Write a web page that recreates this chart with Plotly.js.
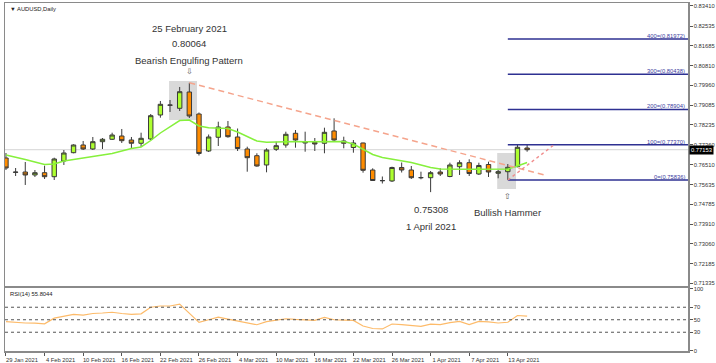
<!DOCTYPE html>
<html>
<head>
<meta charset="utf-8">
<script src="https://cdn.plot.ly/plotly-3.0.1.min.js"></script>
<style>html,body{margin:0;padding:0;background:#fff}#chart{width:716px;height:363px}</style>
</head>
<body>
<div id="chart"></div>
<script>
// ---- data ----
const dates = ['2021-01-29','2021-02-01','2021-02-02','2021-02-03','2021-02-04','2021-02-05','2021-02-08','2021-02-09','2021-02-10','2021-02-11',
'2021-02-12','2021-02-15','2021-02-16','2021-02-17','2021-02-18','2021-02-19','2021-02-22','2021-02-23','2021-02-24','2021-02-25',
'2021-02-26','2021-03-01','2021-03-02','2021-03-03','2021-03-04','2021-03-05','2021-03-08','2021-03-09','2021-03-10','2021-03-11',
'2021-03-12','2021-03-15','2021-03-16','2021-03-17','2021-03-18','2021-03-19','2021-03-22','2021-03-23','2021-03-24','2021-03-25',
'2021-03-26','2021-03-29','2021-03-30','2021-03-31','2021-04-01','2021-04-02','2021-04-05','2021-04-06','2021-04-07','2021-04-08',
'2021-04-09','2021-04-12','2021-04-13','2021-04-14','2021-04-15'];

const openP = [0.76793,0.76184,0.76184,0.76054,0.76154,0.75980,0.76663,0.77024,0.77359,0.77185,
0.77502,0.77607,0.77750,0.77576,0.77433,0.77620,0.78664,0.79099,0.78955,0.79664,
0.78707,0.77098,0.77694,0.78142,0.77707,0.77185,0.76893,0.76489,0.77172,0.77359,
0.77868,0.77446,0.77476,0.77433,0.77968,0.77533,0.77250,0.77446,0.76271,0.75806,
0.75793,0.76380,0.76271,0.75936,0.75936,0.76184,0.75988,0.76415,0.76589,0.76097,
0.76510,0.76128,0.76197,0.76415,0.77228];
const highP = [0.77011,0.76358,0.76619,0.76271,0.76458,0.76806,0.77141,0.77389,0.77533,0.77707,
0.77663,0.77894,0.78055,0.77707,0.77894,0.78707,0.79273,0.79316,0.79882,0.80064,
0.78772,0.77815,0.78372,0.78403,0.78076,0.77285,0.76998,0.77215,0.77502,0.77937,
0.78011,0.77937,0.77663,0.78111,0.78520,0.77720,0.77576,0.77459,0.76345,0.75988,
0.76415,0.76597,0.76445,0.76197,0.76228,0.76345,0.76589,0.76693,0.76736,0.76589,
0.76632,0.76271,0.76532,0.77370,0.77360];
const lowP = [0.76271,0.76010,0.75619,0.75967,0.75880,0.75836,0.76489,0.76998,0.77141,0.77141,
0.77185,0.77576,0.77446,0.77228,0.77272,0.77576,0.78546,0.78794,0.78838,0.78533,
0.76902,0.77054,0.77315,0.77676,0.77098,0.76197,0.76415,0.76171,0.77098,0.77241,
0.77241,0.77067,0.77098,0.76998,0.77533,0.77215,0.77024,0.76154,0.75793,0.75684,
0.75749,0.76162,0.75880,0.75866,0.75308,0.76010,0.75954,0.76054,0.76010,0.76054,
0.75967,0.75910,0.75836,0.76389,0.77067];
const closeP = [0.76358,0.76171,0.76054,0.76154,0.75980,0.76750,0.77011,0.77359,0.77185,0.77502,
0.77607,0.77794,0.77546,0.77433,0.77650,0.78633,0.79129,0.79090,0.79677,0.78620,
0.76989,0.77707,0.78142,0.77720,0.77206,0.76806,0.76445,0.77141,0.77328,0.77824,
0.77576,0.77502,0.77402,0.77911,0.77576,0.77433,0.77446,0.76258,0.75814,0.75810,
0.76380,0.76271,0.75936,0.75940,0.76154,0.76097,0.76489,0.76589,0.76119,0.76467,
0.76184,0.76197,0.76389,0.77259,0.77153];
const maLine = [0.76924,0.76837,0.76728,0.76619,0.76510,0.76532,0.76663,0.76728,0.76793,0.76858,
0.76902,0.76989,0.77098,0.77206,0.77272,0.77554,0.77881,0.78142,0.78424,0.78446,
0.78185,0.78111,0.78098,0.78076,0.77924,0.77728,0.77533,0.77476,0.77489,0.77511,
0.77511,0.77502,0.77511,0.77519,0.77519,0.77511,0.77402,0.77185,0.76945,0.76815,
0.76750,0.76693,0.76597,0.76489,0.76380,0.76315,0.76302,0.76302,0.76302,0.76302,
0.76302,0.76302,0.76315,0.76445,0.76597];
const rsi = [47,45.5,44.8,44.5,43.5,52.5,55.5,58.5,57.5,60,
60.8,62,60,58.5,59.5,70,72,72,75,60.6,
45.8,50,54.3,51,48.4,45,42,47,49.5,51.6,
50.5,50,49,53.7,50,49.5,49,40,36,35.3,
43.2,42.1,41,39.5,43,42.1,45.5,47.3,42.1,47.5,
46.5,44.8,46,56.8,55.8044];

const tickDates = ['2021-01-29','2021-02-04','2021-02-10','2021-02-16','2021-02-22','2021-02-26','2021-03-04','2021-03-10','2021-03-16','2021-03-22','2021-03-26','2021-04-01','2021-04-07','2021-04-13'];
const tickText = ['29 Jan 2021','4 Feb 2021','10 Feb 2021','16 Feb 2021','22 Feb 2021','26 Feb 2021','4 Mar 2021','10 Mar 2021','16 Mar 2021','22 Mar 2021','26 Mar 2021','1 Apr 2021','7 Apr 2021','13 Apr 2021'];
const priceTicks = [0.83410,0.82535,0.81685,0.80810,0.79960,0.79085,0.78235,0.77360,0.76510,0.75635,0.74785,0.73910,0.73060,0.72185,0.71335];
const rsiTicks = [0,30,50,70,100];
const rsiLevels = [30,50,70];
const fibLevels = [0,100,200,300,400];
const fibPrices = [0.75836,0.77370,0.78904,0.80438,0.81972];

// ---- build ----
const xi = dates.map((d,i)=>i);
const X_MIN = -0.1, X_MAX = 70.67;
const iEng = dates.indexOf('2021-02-25');
const iLow = dates.indexOf('2021-04-01');
const iHam = dates.indexOf('2021-04-13');
const last = closeP.length - 1;
const F = 'Liberation Sans, Arial, sans-serif';

const traces = [];
traces.push({type:'scatter', mode:'lines', x:xi, y:maLine, xaxis:'x', yaxis:'y',
  line:{color:'#86f03c', width:1.5}, hoverinfo:'skip', showlegend:false});
traces.push({type:'candlestick', x:xi, open:openP, high:highP, low:lowP, close:closeP, xaxis:'x', yaxis:'y',
  increasing:{line:{color:'#3a3a3a', width:1}, fillcolor:'#adff2f'},
  decreasing:{line:{color:'#3a3a3a', width:1}, fillcolor:'#ff8c00'},
  whiskerwidth:0, showlegend:false});
// fib lines
fibLevels.forEach((lv,k)=>{
  traces.push({type:'scatter', mode:'lines', x:[iHam, X_MAX], y:[fibPrices[k], fibPrices[k]], xaxis:'x', yaxis:'y',
    line:{color:'#2e3192', width:1.6}, hoverinfo:'skip', showlegend:false});
});
// trend lines
traces.push({type:'scatter', mode:'lines', x:[iEng, 55.85], y:[highP[iEng], 0.7605], xaxis:'x', yaxis:'y',
  line:{color:'#f5a48c', width:1.5, dash:'6px,4px'}, hoverinfo:'skip', showlegend:false});
traces.push({type:'scatter', mode:'lines', x:[iHam, 56.9], y:[lowP[iHam], 0.7740], xaxis:'x', yaxis:'y',
  line:{color:'#f08c8c', width:1.4, dash:'dot'}, hoverinfo:'skip', showlegend:false});
// RSI
traces.push({type:'scatter', mode:'lines', x:xi, y:rsi, xaxis:'x2', yaxis:'y2',
  line:{color:'#fdbb6a', width:1.2}, hoverinfo:'skip', showlegend:false});

const tickvals = tickDates.map(d=>dates.indexOf(d));

const shapes = [
  {type:'rect', xref:'x', yref:'y', x0:16.9, x1:19.8, y0:0.78446, y1:0.80143, fillcolor:'#d9d9d9', line:{width:0}, layer:'below'},
  {type:'rect', xref:'x', yref:'y', x0:50.9, x1:52.85, y0:0.75444, y1:0.77011, fillcolor:'#d9d9d9', line:{width:0}, layer:'below'},
  {type:'line', xref:'paper', yref:'y', x0:0, x1:1, y0:closeP[last], y1:closeP[last], line:{color:'#d4d4d4', width:1}, layer:'below'}
];
rsiLevels.forEach(v=>shapes.push({type:'line', xref:'paper', yref:'y2', x0:0, x1:1, y0:v, y1:v,
  line:{color:'#555', width:1, dash:'dot'}}));

const ann = [];
const big = {family:F, size:9.5, color:'#333'};
ann.push({x:iEng, y:highP[iEng], xref:'x', yref:'y', text:'25 February 2021', showarrow:false, yshift:54, font:big});
ann.push({x:iEng, y:highP[iEng], xref:'x', yref:'y', text:highP[iEng].toFixed(5), showarrow:false, yshift:39, font:big});
ann.push({x:iEng, y:highP[iEng], xref:'x', yref:'y', text:'Bearish Engulfing Pattern', showarrow:false, yshift:22, font:big});
ann.push({x:iEng, y:highP[iEng], xref:'x', yref:'y', text:'⇩', showarrow:false, yshift:11, font:{family:'DejaVu Sans', size:8, color:'#555'}});
ann.push({x:iLow, y:lowP[iLow], xref:'x', yref:'y', text:lowP[iLow].toFixed(5), showarrow:false, yshift:-17, font:big});
ann.push({x:iLow, y:lowP[iLow], xref:'x', yref:'y', text:'1 April 2021', showarrow:false, yshift:-34, font:big});
ann.push({x:iHam, y:lowP[iHam], xref:'x', yref:'y', text:'⇧', showarrow:false, yshift:-16, font:{family:'DejaVu Sans', size:8, color:'#555'}});
ann.push({x:iHam, y:lowP[iHam], xref:'x', yref:'y', text:'Bullish Hammer', showarrow:false, yshift:-32, font:big});
fibLevels.forEach((lv,k)=>ann.push({x:1, xref:'paper', y:fibPrices[k], yref:'y', xanchor:'right', yanchor:'bottom',
  text:lv+'=('+fibPrices[k].toFixed(5)+')', showarrow:false, font:{family:F, size:5.8, color:'#3c3ca0'}, xshift:-1, yshift:-2}));
ann.push({x:0.004, y:1, xref:'paper', yref:'paper', xanchor:'left', yanchor:'top', text:'▼ AUDUSD,Daily', showarrow:false,
  font:{family:F, size:5.8, color:'#222'}, yshift:-1});
ann.push({x:0.004, y:0.1796, xref:'paper', yref:'paper', xanchor:'left', yanchor:'top', text:'RSI(14) '+rsi[last].toFixed(4), showarrow:false,
  font:{family:F, size:5.8, color:'#222'}, yshift:-1});
ann.push({x:1, xref:'paper', y:closeP[last], yref:'y', xanchor:'left', text:closeP[last].toFixed(5), showarrow:false,
  bgcolor:'#000', font:{family:F, size:5.8, color:'#fff'}, borderpad:1, xshift:1});

const axBase = {showgrid:false, zeroline:false, showline:true, mirror:true, linecolor:'#8a8a8a', linewidth:1.5};
const layout = {
  width:716, height:363, margin:{l:5, r:28, t:3, b:12}, paper_bgcolor:'#fff', plot_bgcolor:'#fff',
  showlegend:false, boxgap:0.35, dragmode:false,
  font:{family:F, size:6, color:'#333'},
  xaxis:Object.assign({}, axBase, {anchor:'y', range:[X_MIN, X_MAX], showticklabels:false, ticks:'', rangeslider:{visible:false}}),
  xaxis2:Object.assign({}, axBase, {anchor:'y2', matches:'x', range:[X_MIN, X_MAX], tickmode:'array', tickvals:tickvals, ticktext:tickText,
    ticks:'outside', ticklen:3, tickcolor:'#555', tickfont:{family:F, size:5.8, color:'#333'}, ticklabelshift:16, rangeslider:{visible:false}}),
  yaxis:Object.assign({}, axBase, {domain:[0.1868, 1], anchor:'x', side:'right', range:[0.71225, 0.835355], tickmode:'array',
    tickvals:priceTicks, ticktext:priceTicks.map(v=>v.toFixed(5)), ticks:'outside', ticklen:3, tickcolor:'#555',
    tickfont:{family:F, size:5.8, color:'#333'}}),
  yaxis2:Object.assign({}, axBase, {domain:[0, 0.1796], anchor:'x2', side:'right', range:[0, 100], tickmode:'array',
    tickvals:rsiTicks, ticktext:rsiTicks.map(String), ticks:'outside', ticklen:3, tickcolor:'#555',
    tickfont:{family:F, size:5.8, color:'#333'}}),
  shapes:shapes, annotations:ann
};
Plotly.newPlot('chart', traces, layout, {staticPlot:true, displayModeBar:false});
</script>
</body>
</html>
